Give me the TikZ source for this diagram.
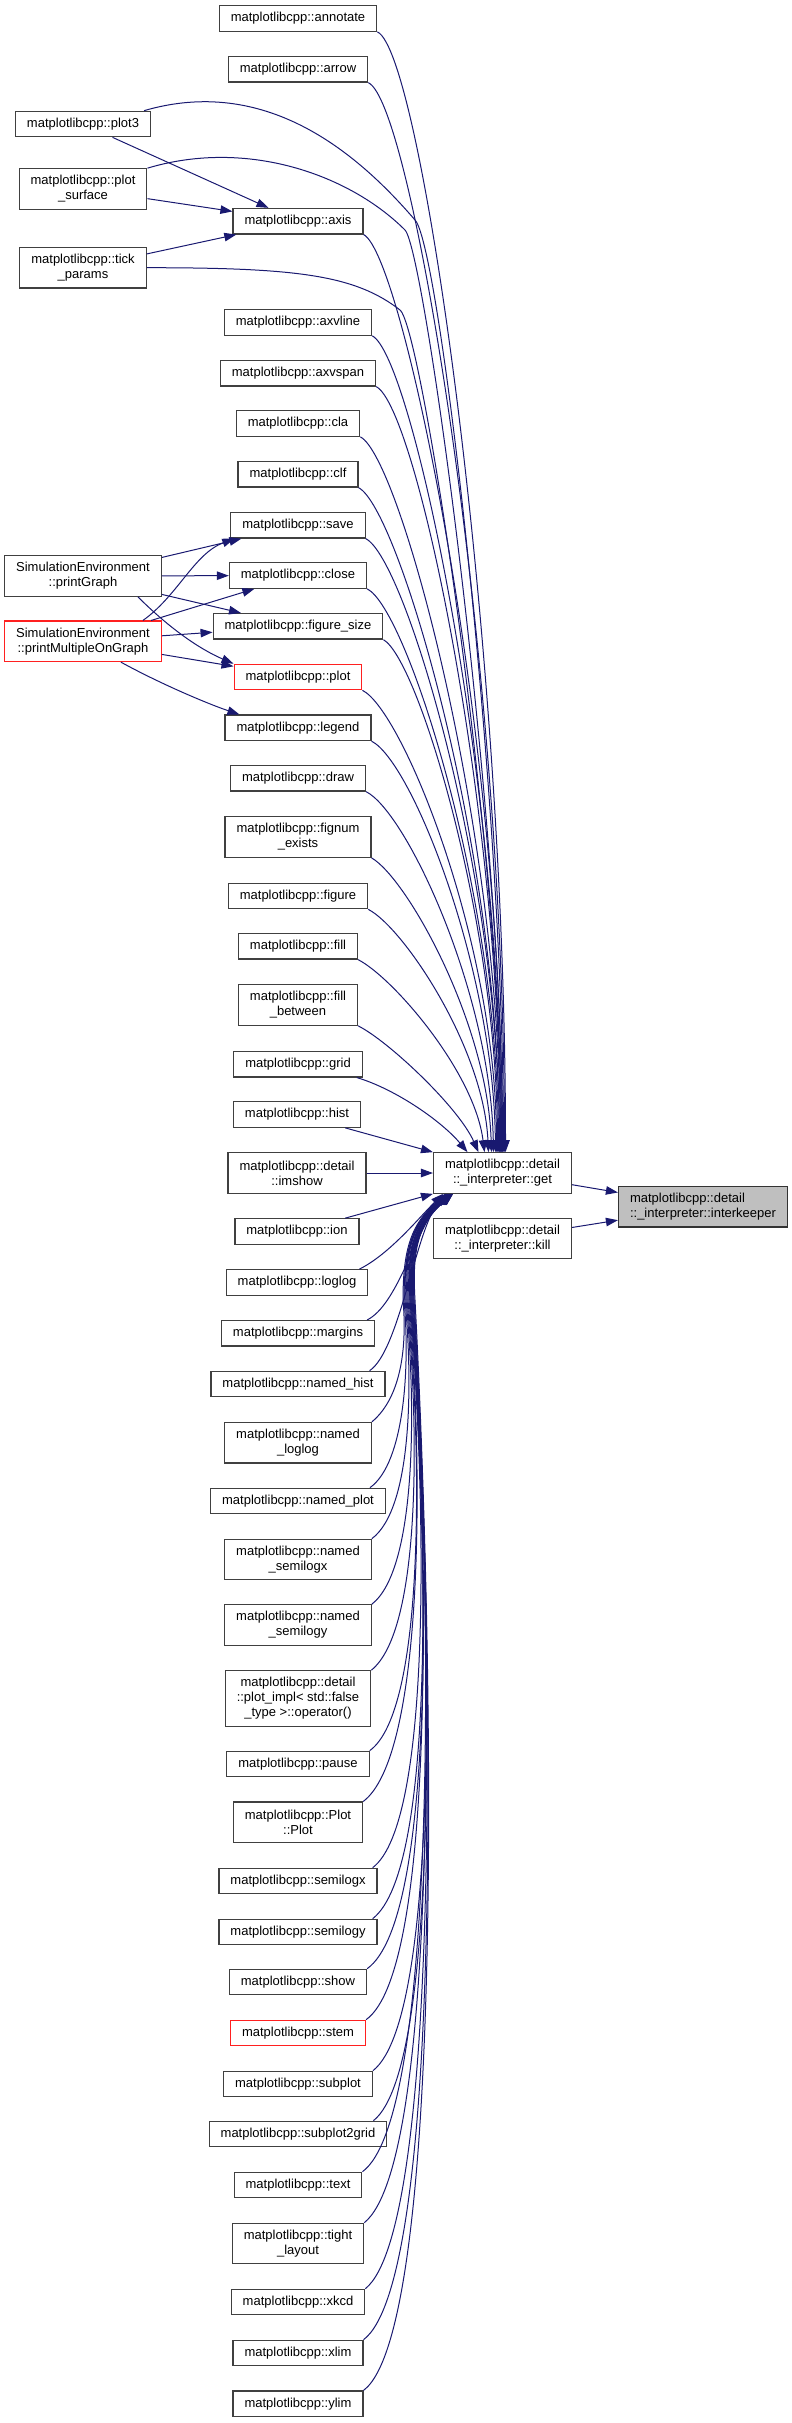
\documentclass[tikz,border=0pt]{standalone}
\usepackage{fontspec}
\setmainfont{Liberation Sans}
\usetikzlibrary{positioning, arrows.meta}

\definecolor{edgeblue}{HTML}{191970}
\definecolor{boxgrey}{HTML}{404040}
\definecolor{hotred}{HTML}{FF2020}
\definecolor{rootfill}{HTML}{BFBFBF}

\begin{document}
\begin{tikzpicture}[
  x=1pt, y=-1pt,
  fn/.style={draw=boxgrey, line width=1.2pt, fill=white, minimum height=25.5pt,
             inner xsep=11.5pt, inner ysep=2pt, align=center,
             font=\fontsize{13}{15}\selectfont},
  fn2/.style={fn, minimum height=40.5pt},
  fn3/.style={fn, minimum height=55.5pt},
  hot/.style={draw=hotred},
  root/.style={fn2, fill=rootfill, draw=black!80, align=left},
  arr/.style={-{Triangle[length=12pt, width=8.5pt]}, line width=1pt, color=edgeblue},
]
\useasboundingbox (0,0) rectangle (792,2423);

% --- Outer callers ---
\node[fn]  (plotthree) at (83,124)   {matplotlibcpp::plot3};
\node[fn2] (plotsurf)  at (83,189)   {matplotlibcpp::plot\\\_surface};
\node[fn2] (tickp)     at (83,267.7) {matplotlibcpp::tick\\\_params};
\node[fn2] (prgraph)   at (83,576)   {SimulationEnvironment\\::printGraph};
\node[fn2, hot] (prmulti) at (83,641.3) {SimulationEnvironment\\::printMultipleOnGraph};

% --- Callers of get ---
\node[fn]  (annotate) at (298,18.5)   {matplotlibcpp::annotate};
\node[fn]  (arrow)    at (298,69.3)   {matplotlibcpp::arrow};
\node[fn]  (axis)     at (298,221.2)  {matplotlibcpp::axis};
\node[fn]  (axvline)  at (298,322.5)  {matplotlibcpp::axvline};
\node[fn]  (axvspan)  at (298,373.3)  {matplotlibcpp::axvspan};
\node[fn]  (cla)      at (298,423.5)  {matplotlibcpp::cla};
\node[fn]  (clf)      at (298,474.3)  {matplotlibcpp::clf};
\node[fn]  (save)     at (298,525.3)  {matplotlibcpp::save};
\node[fn]  (close)    at (298,575.5)  {matplotlibcpp::close};
\node[fn]  (figsize)  at (298,626.3)  {matplotlibcpp::figure\_size};
\node[fn, hot] (plot) at (298,677)    {matplotlibcpp::plot};
\node[fn]  (legend)   at (298,727.8)  {matplotlibcpp::legend};
\node[fn]  (drawf)    at (298,778.3)  {matplotlibcpp::draw};
\node[fn2] (fignum)   at (298,837)    {matplotlibcpp::fignum\\\_exists};
\node[fn]  (figure)   at (298,896)    {matplotlibcpp::figure};
\node[fn]  (fill)     at (298,946.3)  {matplotlibcpp::fill};
\node[fn2] (fillbtw)  at (298,1005)   {matplotlibcpp::fill\\\_between};
\node[fn]  (grid)     at (298,1064.2) {matplotlibcpp::grid};
\node[fn]  (hist)     at (297,1114.5) {matplotlibcpp::hist};
\node[fn2] (imshow)   at (297,1173)   {matplotlibcpp::detail\\::imshow};
\node[fn]  (ion)      at (297,1231.5) {matplotlibcpp::ion};
\node[fn]  (loglog)   at (297,1282.5) {matplotlibcpp::loglog};
\node[fn]  (margins)  at (298,1333.3) {matplotlibcpp::margins};
\node[fn]  (nhist)    at (298,1384)   {matplotlibcpp::named\_hist};
\node[fn2] (nloglog)  at (298,1442.7) {matplotlibcpp::named\\\_loglog};
\node[fn]  (nplot)    at (298,1501)   {matplotlibcpp::named\_plot};
\node[fn2] (nsemix)   at (298,1559.5) {matplotlibcpp::named\\\_semilogx};
\node[fn2] (nsemiy)   at (298,1625)   {matplotlibcpp::named\\\_semilogy};
\node[fn3] (plotimpl) at (298,1698.5) {matplotlibcpp::detail\\::plot\_impl< std::false\\\_type >::operator()};
\node[fn]  (pause)    at (298,1764)   {matplotlibcpp::pause};
\node[fn2] (plotctor) at (298,1822.3) {matplotlibcpp::Plot\\::Plot};
\node[fn]  (semilogx) at (298,1881)   {matplotlibcpp::semilogx};
\node[fn]  (semilogy) at (298,1932)   {matplotlibcpp::semilogy};
\node[fn]  (show)     at (298,1982)   {matplotlibcpp::show};
\node[fn, hot] (stem) at (298,2033)   {matplotlibcpp::stem};
\node[fn]  (subplot)  at (298,2084)   {matplotlibcpp::subplot};
\node[fn]  (subgrid)  at (298,2134)   {matplotlibcpp::subplot2grid};
\node[fn]  (textf)    at (298,2185)   {matplotlibcpp::text};
\node[fn2] (tight)    at (298,2243.5) {matplotlibcpp::tight\\\_layout};
\node[fn]  (xkcd)     at (298,2302)   {matplotlibcpp::xkcd};
\node[fn]  (xlim)     at (298,2353)   {matplotlibcpp::xlim};
\node[fn]  (ylim)     at (298,2403.7) {matplotlibcpp::ylim};

% --- Interpreter ---
\node[fn2]  (get)    at (502.5,1173)   {matplotlibcpp::detail\\::\_interpreter::get};
\node[fn2]  (kill)   at (502.5,1238.5) {matplotlibcpp::detail\\::\_interpreter::kill};
\node[root] (keeper) at (703,1206.7)   {matplotlibcpp::detail\\::\_interpreter::interkeeper};

% --- Outer callers to their targets ---
\draw[arr] (plotthree) -- (axis);
\draw[arr] (plotsurf) -- (axis);
\draw[arr] (tickp) -- (axis);
\draw[arr] (prgraph) -- (save);
\draw[arr] (prgraph) -- (close);
\draw[arr] (prgraph) -- (figsize);
\draw[arr] ([xshift=-24pt]prgraph.south east) .. controls +(30,30) and +(-35,-15) .. (plot.north west);
\draw[arr] ([xshift=-19pt]prmulti.north east) .. controls +(35,-25) and +(-40,15) .. ([xshift=4pt]save.south west);
\draw[arr] (prmulti) -- (close);
\draw[arr] (prmulti) -- (figsize);
\draw[arr] (prmulti) -- (plot);
\draw[arr] ([xshift=-41pt]prmulti.south east) .. controls +(40,22) and +(-30,-10) .. ([xshift=15pt]legend.north west);

% --- Into get from above ---
\draw[arr] ([xshift=-7pt]plotthree.north east) .. controls +(120,-35) and +(-60,-70) .. (415,220)
           .. controls +(25,25) and +(0,-350) .. ([xshift=1pt]get.north);
\draw[arr] (plotsurf.north east) .. controls +(100,-30) and +(-55,-55) .. (405,230)
           .. controls +(20,20) and +(0,-330) .. (get.north);
\draw[arr] (tickp.east) .. controls +(150,0) and +(-45,-35) .. (400,310)
           .. controls +(22,17) and +(0,-300) .. ([xshift=-1pt]get.north);
\draw[arr] (annotate.south east) .. controls +(45,20) and +(0,-500) .. ([xshift=3pt]get.north);
\draw[arr] (arrow.south east) .. controls +(45,20) and +(0,-480) .. ([xshift=2pt]get.north);
\draw[arr] (axis.south east) .. controls +(40,20) and +(0,-410) .. (get.north);
\draw[arr] (axvline.south east) .. controls +(40,20) and +(0,-370) .. ([xshift=-1pt]get.north);
\draw[arr] (axvspan.south east) .. controls +(40,20) and +(0,-345) .. ([xshift=-2pt]get.north);
\draw[arr] (cla.south east) .. controls +(40,20) and +(0,-320) .. ([xshift=-2pt]get.north);
\draw[arr] (clf.south east) .. controls +(40,20) and +(0,-300) .. ([xshift=-3pt]get.north);
\draw[arr] (save.south east) .. controls +(40,20) and +(0,-275) .. ([xshift=-3pt]get.north);
\draw[arr] (close.south east) .. controls +(40,20) and +(0,-255) .. ([xshift=-4pt]get.north);
\draw[arr] (figsize.south east) .. controls +(35,20) and +(0,-230) .. ([xshift=-5pt]get.north);
\draw[arr] (plot.south east) .. controls +(40,20) and +(0,-210) .. ([xshift=-6pt]get.north);
\draw[arr] (legend.south east) .. controls +(40,20) and +(-2,-185) .. ([xshift=-7pt]get.north);
\draw[arr] (drawf.south east) .. controls +(40,20) and +(-3,-160) .. ([xshift=-9pt]get.north);
\draw[arr] (fignum.south east) .. controls +(35,20) and +(-4,-130) .. ([xshift=-11pt]get.north);
\draw[arr] (figure.south east) .. controls +(35,18) and +(-5,-105) .. ([xshift=-14pt]get.north);
\draw[arr] (fill.south east) .. controls +(35,18) and +(-10,-80) .. ([xshift=-18pt]get.north);
\draw[arr] (fillbtw.south east) .. controls +(30,15) and +(-20,-45) .. ([xshift=-24pt]get.north);
\draw[arr] ([xshift=-6pt]grid.south east) .. controls +(40,12) and +(-25,-30) .. ([xshift=-35pt]get.north);
\draw[arr] (hist) -- (get.north west);
\draw[arr] (imshow) -- (get);
\draw[arr] (ion) -- (get.south west);

% --- Into get from below ---
\draw[arr] ([xshift=-9pt]loglog.north east) .. controls +(30,-15) and +(-25,25) .. ([xshift=10pt]get.south west);
\draw[arr] ([xshift=-8pt]margins.north east) .. controls +(30,-15) and +(-30,40) .. ([xshift=12pt]get.south west);
\draw[arr] ([xshift=-16pt]nhist.north east) .. controls +(30,-20) and +(-30,35) .. ([xshift=13pt]get.south west);
\draw[arr] (nloglog.north east) .. controls +(30,-25) and +(4,45) .. (403,1300)
           .. controls +(0,-50) and +(-35,30) .. ([xshift=13pt]get.south west);
\draw[arr] ([xshift=-16pt]nplot.north east) .. controls +(35,-25) and +(6,65) .. (404,1300)
           .. controls +(0,-50) and +(-35,30) .. ([xshift=14pt]get.south west);
\draw[arr] (nsemix.north east) .. controls +(40,-30) and +(8,85) .. (405,1300)
           .. controls +(-1,-50) and +(-35,30) .. ([xshift=14pt]get.south west);
\draw[arr] (nsemiy.north east) .. controls +(45,-35) and +(10,105) .. (406,1300)
           .. controls +(-2,-50) and +(-35,30) .. ([xshift=15pt]get.south west);
\draw[arr] (plotimpl.north east) .. controls +(50,-40) and +(12,130) .. (407,1300)
           .. controls +(-2,-50) and +(-35,30) .. ([xshift=15pt]get.south west);
\draw[arr] (pause.north east) .. controls +(55,-40) and +(14,160) .. (408,1300)
           .. controls +(-2,-50) and +(-35,30) .. ([xshift=16pt]get.south west);
\draw[arr] (plotctor.north east) .. controls +(60,-45) and +(15,175) .. (409,1300)
           .. controls +(-2,-50) and +(-35,30) .. ([xshift=16pt]get.south west);
\draw[arr] ([xshift=-5pt]semilogx.north east) .. controls +(60,-45) and +(16,200) .. (410,1300)
           .. controls +(-3,-50) and +(-35,30) .. ([xshift=17pt]get.south west);
\draw[arr] ([xshift=-5pt]semilogy.north east) .. controls +(65,-50) and +(17,215) .. (410,1300)
           .. controls +(-3,-50) and +(-35,30) .. ([xshift=17pt]get.south west);
\draw[arr] (show.north east) .. controls +(70,-50) and +(18,235) .. (411,1300)
           .. controls +(-3,-50) and +(-35,30) .. ([xshift=18pt]get.south west);
\draw[arr] (stem.north east) .. controls +(70,-50) and +(18,250) .. (411,1300)
           .. controls +(-3,-50) and +(-35,30) .. ([xshift=18pt]get.south west);
\draw[arr] (subplot.north east) .. controls +(70,-55) and +(19,270) .. (412,1300)
           .. controls +(-3,-50) and +(-35,30) .. ([xshift=18pt]get.south west);
\draw[arr] ([xshift=-14pt]subgrid.north east) .. controls +(70,-55) and +(19,290) .. (412,1300)
           .. controls +(-3,-50) and +(-35,30) .. ([xshift=19pt]get.south west);
\draw[arr] (textf.north east) .. controls +(75,-55) and +(20,305) .. (413,1300)
           .. controls +(-3,-50) and +(-35,30) .. ([xshift=19pt]get.south west);
\draw[arr] (tight.north east) .. controls +(75,-60) and +(20,320) .. (413,1300)
           .. controls +(-3,-50) and +(-35,30) .. ([xshift=19pt]get.south west);
\draw[arr] (xkcd.north east) .. controls +(75,-60) and +(20,345) .. (414,1300)
           .. controls +(-3,-50) and +(-35,30) .. ([xshift=20pt]get.south west);
\draw[arr] (xlim.north east) .. controls +(80,-60) and +(20,365) .. (414,1300)
           .. controls +(-3,-50) and +(-35,30) .. ([xshift=20pt]get.south west);
\draw[arr] (ylim.north east) .. controls +(80,-60) and +(20,380) .. (415,1300)
           .. controls +(-3,-50) and +(-35,30) .. ([xshift=20pt]get.south west);

% --- Into interkeeper ---
\draw[arr] (get) -- (keeper);
\draw[arr] (kill) -- (keeper);

\end{tikzpicture}
\end{document}
